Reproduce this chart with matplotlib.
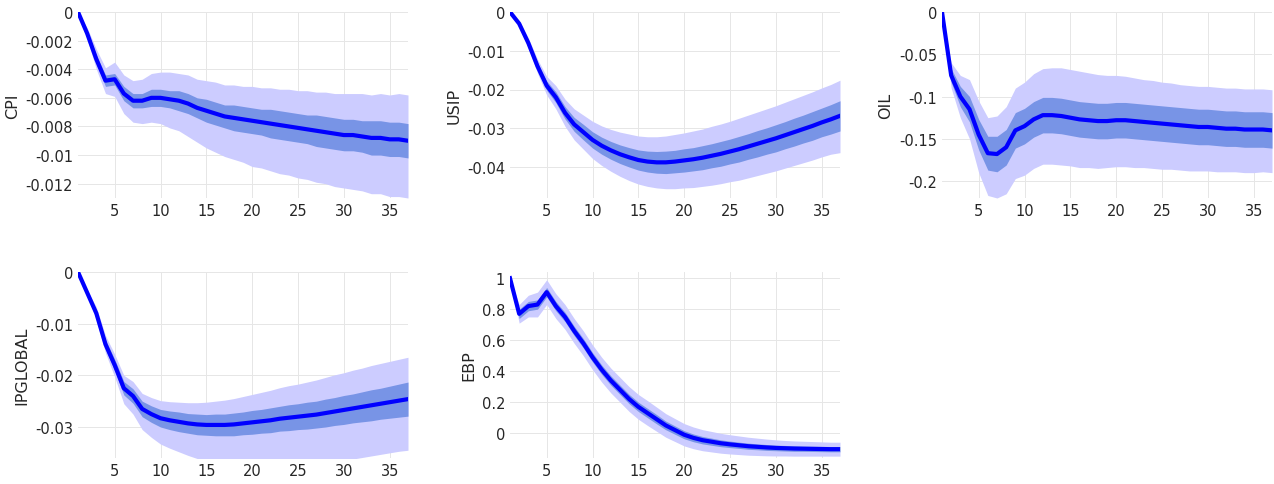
import numpy as np
import matplotlib
matplotlib.use("Agg")
import matplotlib.pyplot as plt

h = np.arange(1, 38)
names = ["CPI", "USIP", "OIL", "IPGLOBAL", "EBP"]

cpi = [0,-0.0015,-0.0033,-0.0048,-0.0047,-0.0057,-0.0062,-0.0062,-0.006,-0.006,-0.0061,-0.0062,-0.0064,-0.0067,-0.0069,-0.0071,-0.0073,-0.0074,-0.0075,-0.0076,-0.0077,-0.0078,-0.0079,-0.008,-0.0081,-0.0082,-0.0083,-0.0084,-0.0085,-0.0086,-0.0086,-0.0087,-0.0088,-0.0088,-0.0089,-0.0089,-0.009]
usip = [0,-0.003,-0.008,-0.014,-0.019,-0.022,-0.026,-0.029,-0.031,-0.033,-0.0345,-0.0357,-0.0367,-0.0375,-0.0382,-0.0386,-0.0388,-0.0388,-0.0386,-0.0383,-0.038,-0.0376,-0.0371,-0.0366,-0.036,-0.0354,-0.0347,-0.034,-0.0333,-0.0326,-0.0318,-0.031,-0.0302,-0.0294,-0.0285,-0.0277,-0.0268]
oil = [0,-0.075,-0.1,-0.115,-0.145,-0.167,-0.168,-0.16,-0.14,-0.135,-0.127,-0.122,-0.122,-0.123,-0.125,-0.127,-0.128,-0.129,-0.129,-0.128,-0.128,-0.129,-0.13,-0.131,-0.132,-0.133,-0.134,-0.135,-0.136,-0.136,-0.137,-0.138,-0.138,-0.139,-0.139,-0.139,-0.14]
ipg = [0,-0.004,-0.008,-0.014,-0.018,-0.0225,-0.024,-0.0265,-0.0275,-0.0283,-0.0287,-0.029,-0.0293,-0.0295,-0.0296,-0.0296,-0.0296,-0.0295,-0.0293,-0.0291,-0.0289,-0.0287,-0.0284,-0.0282,-0.028,-0.0278,-0.0276,-0.0273,-0.027,-0.0267,-0.0264,-0.0261,-0.0258,-0.0255,-0.0252,-0.0249,-0.0246]
ebp = [1,0.77,0.82,0.83,0.91,0.82,0.75,0.66,0.58,0.49,0.41,0.34,0.28,0.22,0.17,0.13,0.09,0.05,0.02,-0.01,-0.03,-0.045,-0.055,-0.065,-0.072,-0.078,-0.084,-0.088,-0.092,-0.095,-0.097,-0.099,-0.1,-0.101,-0.102,-0.103,-0.103]
medians = [cpi, usip, oil, ipg, ebp]

inner_cpi = [0,0.0002,0.0003,0.0004,0.0004,0.0005,0.0005,0.0005,0.0006,0.0006,0.0006,0.0007,0.0007,0.0007,0.0008,0.0008,0.0008,0.0009,0.0009,0.0009,0.0009,0.001,0.001,0.001,0.001,0.001,0.0011,0.0011,0.0011,0.0011,0.0011,0.0011,0.0012,0.0012,0.0012,0.0012,0.0012]
up_cpi = [0,0.0004,0.0007,0.0009,0.0012,0.0013,0.0014,0.0015,0.0017,0.0018,0.0019,0.0019,0.002,0.002,0.0021,0.0022,0.0022,0.0023,0.0023,0.0024,0.0024,0.0025,0.0025,0.0026,0.0026,0.0027,0.0027,0.0028,0.0028,0.0029,0.0029,0.003,0.003,0.0031,0.0031,0.0032,0.0032]
lo_cpi = [0,0.0004,0.0007,0.0009,0.0012,0.0014,0.0015,0.0016,0.0017,0.0018,0.002,0.0021,0.0023,0.0024,0.0026,0.0027,0.0028,0.0029,0.003,0.0032,0.0032,0.0033,0.0034,0.0034,0.0035,0.0035,0.0036,0.0036,0.0037,0.0037,0.0038,0.0038,0.0039,0.0039,0.004,0.004,0.004]
inner_usip = [0,0.0003,0.0006,0.0009,0.0012,0.0014,0.0016,0.0018,0.002,0.0021,0.0022,0.0023,0.0024,0.0025,0.0026,0.0027,0.0028,0.0029,0.0029,0.003,0.003,0.0031,0.0031,0.0032,0.0032,0.0033,0.0033,0.0034,0.0034,0.0035,0.0035,0.0036,0.0036,0.0037,0.0037,0.0038,0.0039]
up_usip = [0,0.0007,0.0013,0.0018,0.0024,0.003,0.0035,0.004,0.0044,0.0048,0.0051,0.0054,0.0057,0.006,0.0062,0.0064,0.0066,0.0068,0.007,0.0071,0.0073,0.0074,0.0076,0.0077,0.0078,0.008,0.0081,0.0082,0.0083,0.0084,0.0085,0.0086,0.0087,0.0088,0.0089,0.009,0.0092]
lo_usip = [0,0.0007,0.0013,0.0018,0.0024,0.003,0.0035,0.004,0.0044,0.0048,0.0051,0.0054,0.0057,0.006,0.0062,0.0064,0.0066,0.0068,0.007,0.0071,0.0073,0.0074,0.0076,0.0077,0.0078,0.008,0.0081,0.0082,0.0083,0.0084,0.0085,0.0086,0.0087,0.0088,0.0089,0.009,0.0095]
inner_oil = [0,0.008,0.012,0.015,0.018,0.02,0.021,0.021,0.021,0.021,0.021,0.021,0.021,0.021,0.021,0.021,0.021,0.021,0.021,0.021,0.021,0.021,0.021,0.021,0.021,0.021,0.021,0.021,0.021,0.021,0.021,0.021,0.021,0.021,0.021,0.021,0.021]
up_oil = [0,0.015,0.025,0.035,0.04,0.042,0.045,0.048,0.05,0.052,0.054,0.055,0.056,0.057,0.057,0.057,0.056,0.055,0.054,0.053,0.052,0.051,0.05,0.05,0.049,0.049,0.048,0.048,0.048,0.048,0.048,0.048,0.048,0.048,0.048,0.048,0.048]
lo_oil = [0,0.015,0.025,0.035,0.045,0.05,0.052,0.055,0.057,0.058,0.058,0.058,0.058,0.058,0.057,0.057,0.056,0.056,0.055,0.055,0.055,0.055,0.054,0.054,0.054,0.053,0.053,0.053,0.052,0.052,0.052,0.051,0.051,0.051,0.051,0.05,0.05]
inner_ipg = [0,0.0003,0.0006,0.0009,0.0011,0.0013,0.0014,0.0015,0.0016,0.0017,0.0018,0.0019,0.0019,0.002,0.002,0.0021,0.0021,0.0022,0.0022,0.0023,0.0023,0.0024,0.0024,0.0025,0.0025,0.0026,0.0026,0.0027,0.0027,0.0028,0.0028,0.0029,0.003,0.003,0.0031,0.0032,0.0033]
up_ipg = [0,0.0006,0.0012,0.0017,0.0021,0.0025,0.0028,0.003,0.0032,0.0034,0.0036,0.0038,0.004,0.0042,0.0044,0.0046,0.0048,0.005,0.0052,0.0054,0.0056,0.0058,0.006,0.0062,0.0063,0.0065,0.0067,0.0069,0.0071,0.0072,0.0074,0.0075,0.0077,0.0078,0.0079,0.008,0.0081]
lo_ipg = [0,0.0006,0.0012,0.0017,0.0023,0.003,0.0035,0.004,0.0045,0.005,0.0054,0.0058,0.0062,0.0066,0.007,0.0073,0.0076,0.0079,0.0082,0.0084,0.0086,0.0088,0.009,0.0092,0.0093,0.0094,0.0095,0.0096,0.0097,0.0097,0.0098,0.0098,0.0098,0.0098,0.0098,0.0098,0.0099]
inner_ebp = [0,0.03,0.03,0.03,0.03,0.03,0.03,0.03,0.03,0.03,0.03,0.03,0.03,0.03,0.03,0.03,0.03,0.028,0.027,0.026,0.025,0.024,0.023,0.022,0.021,0.02,0.02,0.019,0.019,0.018,0.018,0.018,0.017,0.017,0.017,0.017,0.017]
up_ebp = [0,0.06,0.07,0.08,0.08,0.08,0.08,0.08,0.08,0.08,0.08,0.08,0.08,0.08,0.08,0.08,0.078,0.076,0.074,0.072,0.07,0.068,0.066,0.064,0.062,0.06,0.058,0.056,0.054,0.052,0.05,0.049,0.048,0.047,0.046,0.045,0.045]
lo_ebp = list(up_ebp)

inners = [inner_cpi, inner_usip, inner_oil, inner_ipg, inner_ebp]
ups = [up_cpi, up_usip, up_oil, up_ipg, up_ebp]
los = [lo_cpi, lo_usip, lo_oil, lo_ipg, lo_ebp]

ylims = [(-0.013, 0), (-0.048, 0), (-0.22, 0), (-0.036, 0), (-0.16, 1.04)]
yticks = [[-0.012,-0.01,-0.008,-0.006,-0.004,-0.002,0],
          [-0.04,-0.03,-0.02,-0.01,0],
          [-0.2,-0.15,-0.1,-0.05,0],
          [-0.03,-0.02,-0.01,0],
          [0,0.2,0.4,0.6,0.8,1]]
yticklabels = [["-0.012","-0.01","-0.008","-0.006","-0.004","-0.002","0"],
               ["-0.04","-0.03","-0.02","-0.01","0"],
               ["-0.2","-0.15","-0.1","-0.05","0"],
               ["-0.03","-0.02","-0.01","0"],
               ["0","0.2","0.4","0.6","0.8","1"]]

W, H = 1274, 485
fig = plt.figure(figsize=(W/100, H/100), dpi=100)
lefts = [78, 510, 942]
pos = [(lefts[0], 13), (lefts[1], 13), (lefts[2], 13), (lefts[0], 273), (lefts[1], 273)]
aw, ah = 330, 186
for i in range(5):
    x0, y0 = pos[i]
    ax = fig.add_axes([x0/W, 1-(y0+ah)/H, aw/W, ah/H])
    m = np.array(medians[i]); inn = np.array(inners[i]); u = np.array(ups[i]); l = np.array(los[i])
    ax.fill_between(h, m-l, m+u, color=(0.8, 0.8, 1.0), lw=0, zorder=1)
    ax.fill_between(h, m-inn, m+inn, color=(0.47, 0.58, 0.9), lw=0, zorder=2)
    ax.plot(h, m, color=(0, 0, 1), lw=3, zorder=3)
    ax.set_xlim(1, 37)
    ax.set_ylim(*ylims[i])
    ax.set_xticks([5,10,15,20,25,30,35])
    ax.set_yticks(yticks[i]); ax.set_yticklabels(yticklabels[i])
    ax.grid(True, color=(0.9,0.9,0.9), lw=0.7, zorder=0)
    ax.set_axisbelow(True)
    for s in ax.spines.values():
        s.set_visible(False)
    ax.tick_params(length=0, labelsize=10.5, colors=(0.15,0.15,0.15))
    ax.set_ylabel(names[i], fontsize=11.5, color=(0.15,0.15,0.15))
fig.savefig("out.png", dpi=100)
